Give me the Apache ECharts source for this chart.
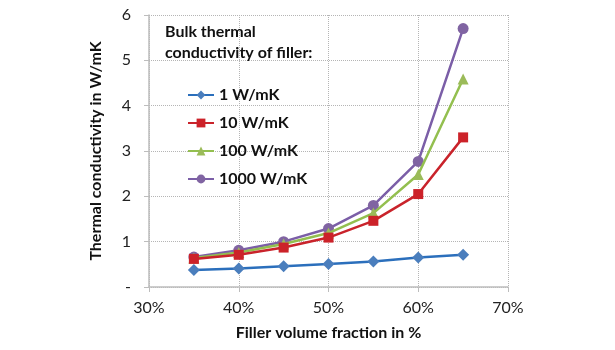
<!DOCTYPE html>
<html><head><meta charset="utf-8">
<script src="https://cdn.jsdelivr.net/npm/echarts@6/dist/echarts.min.js"></script>
<style>html,body{margin:0;padding:0;background:#fff}#c{width:615px;height:350px}</style>
</head><body><div id="c"></div>
<script>
const fractions = [35, 40, 45, 50, 55, 60, 65];
const seriesNames = ['1 W/mK', '10 W/mK', '100 W/mK', '1000 W/mK'];
const s1 = [0.375, 0.41, 0.46, 0.51, 0.565, 0.65, 0.71];
const s10 = [0.62, 0.71, 0.87, 1.09, 1.46, 2.05, 3.30];
const s100 = [0.64, 0.76, 0.95, 1.19, 1.63, 2.48, 4.59];
const s1000 = [0.66, 0.81, 1.0, 1.29, 1.80, 2.77, 5.70];
const xTicks = [30, 40, 50, 60, 70];
const yTicks = [0, 1, 2, 3, 4, 5, 6];

const FONT = 'Lato';
const colors = ['#2b6fbc', '#c9232b', '#93bf4f', '#7b5ea7'];
const markerColors = ['#4a7ebd', '#cc2229', '#9bbb59', '#8064a2'];
const symbols = ['diamond', 'rect', 'triangle', 'circle'];
const sizes = [12, 10, 11, 11];
const datasets = [s1, s10, s100, s1000];

const chart = echarts.init(document.getElementById('c'));
chart.setOption({
  animation: false,
  textStyle: { fontFamily: FONT },
  title: {
    text: 'Bulk thermal\nconductivity of filler:',
    left: 160, top: 16,
    textStyle: { fontFamily: FONT, fontSize: 16, fontWeight: 'bold', color: '#111', lineHeight: 21 }
  },
  legend: {
    orient: 'vertical', left: 182, top: 82,
    itemWidth: 26, itemHeight: 11, itemGap: 12,
    textStyle: { fontFamily: FONT, fontSize: 16, fontWeight: 'bold', color: '#111' },
    data: seriesNames
  },
  grid: { left: 149, right: 107, top: 15, bottom: 63 },
  xAxis: {
    type: 'value', min: xTicks[0], max: xTicks[xTicks.length - 1], interval: 10,
    name: 'Filler volume fraction in %', nameLocation: 'middle', nameGap: 38,
    nameTextStyle: { fontFamily: FONT, fontSize: 16, fontWeight: 'bold', color: '#111' },
    axisLine: { lineStyle: { color: '#bdbdbd', width: 1.5 } },
    axisTick: { show: true, length: 5, lineStyle: { color: '#bdbdbd' } },
    axisLabel: { formatter: '{value}%', margin: 13, fontSize: 16, color: '#222', fontFamily: FONT },
    splitLine: { show: true, lineStyle: { type: 'dotted', color: '#b5b5b5' } }
  },
  yAxis: {
    type: 'value', min: yTicks[0], max: yTicks[yTicks.length - 1], interval: 1,
    name: 'Thermal conductivity in W/mK', nameLocation: 'middle', nameGap: 45,
    nameTextStyle: { fontFamily: FONT, fontSize: 16, fontWeight: 'bold', color: '#111' },
    axisLine: { show: true, lineStyle: { color: '#bdbdbd', width: 1.5 } },
    axisTick: { show: true, length: 5, lineStyle: { color: '#bdbdbd' } },
    axisLabel: { formatter: v => v === 0 ? '-' : String(v), margin: 18, fontSize: 16, color: '#222', fontFamily: FONT },
    splitLine: { show: true, lineStyle: { type: 'dotted', color: '#b5b5b5' } }
  },
  series: datasets.map((d, i) => ({
    name: seriesNames[i],
    type: 'line',
    data: fractions.map((f, j) => [f, d[j]]),
    symbol: symbols[i], symbolSize: sizes[i],
    lineStyle: { color: colors[i], width: 2.5 },
    itemStyle: { color: markerColors[i] },
    z: 2 + (3 - i)
  }))
});
</script></body></html>
